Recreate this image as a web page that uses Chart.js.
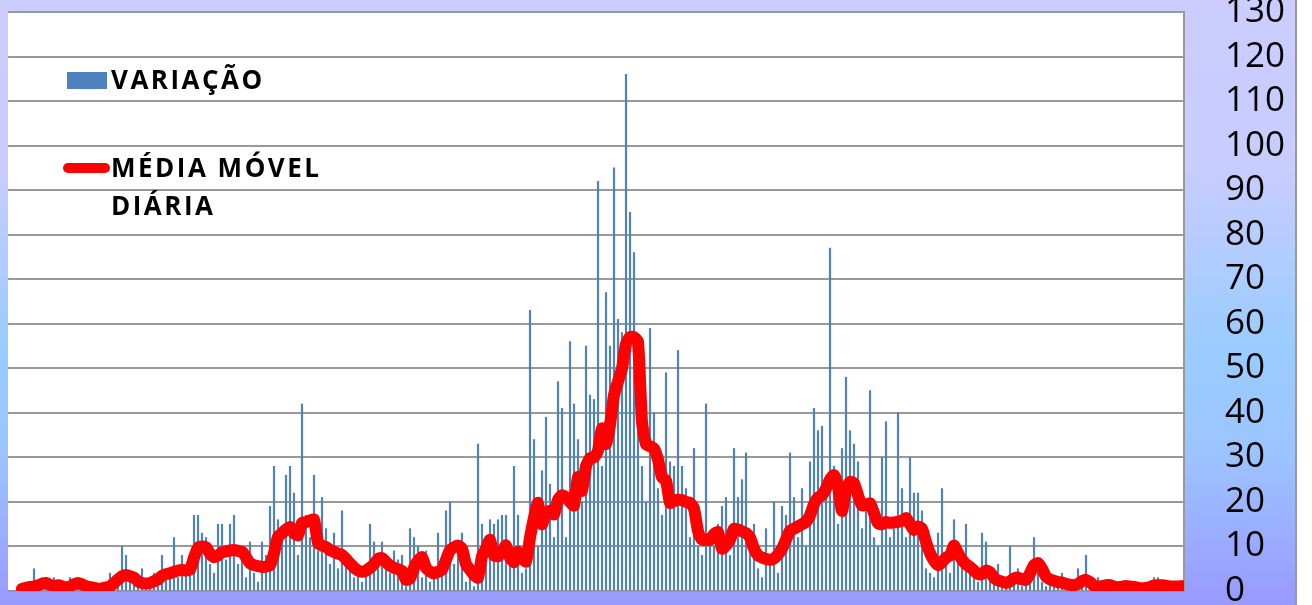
<!DOCTYPE html>
<html>
<head>
<meta charset="utf-8">
<script src="https://cdn.jsdelivr.net/npm/chart.js@4.4.1/dist/chart.umd.min.js"></script>
<style>
  body { margin: 0; background: #fff; }
  canvas { display: block; }
</style>
</head>
<body>
<canvas id="grafico" width="1312" height="605"></canvas>
<script>
// variação diária (barras)
const variacao = [
  0,0,0,1,0,2,5,1,3,2,
  1,3,0,1,2,3,1,3,2,1,
  0,1,0,1,0,4,2,1,10,8,
  3,2,1,5,1,2,4,2,8,3,
  5,12,3,8,4,6,17,17,13,12,
  6,4,15,15,7,15,17,6,8,3,
  11,4,2,11,8,19,28,16,12,26,
  28,22,8,42,17,12,26,9,21,14,
  6,13,5,18,8,6,3,4,2,4,
  15,11,5,11,7,4,9,7,8,1,
  14,12,10,3,9,2,4,13,5,18,
  20,6,9,13,2,4,1,33,15,6,
  16,15,16,17,17,8,28,17,4,5,
  63,34,10,27,39,24,12,47,41,12,
  56,42,34,20,55,44,43,92,28,67,
  55,95,61,58,116,85,76,42,28,20,
  59,40,23,17,49,29,28,54,28,23,
  12,32,10,8,42,12,10,15,19,21,
  8,32,21,25,31,12,15,5,3,14,
  6,20,4,19,17,31,21,12,23,10,
  29,41,36,37,25,77,28,15,32,48,
  36,33,29,14,18,45,12,10,30,38,
  12,14,40,23,12,30,22,22,18,5,
  4,3,13,23,6,4,16,8,6,15,
  4,3,2,13,11,3,2,6,1,3,
  10,2,5,1,2,3,12,4,2,1,
  2,1,2,4,1,2,1,5,2,8,
  2,1,3,1,0,2,1,0,2,1,
  0,1,0,1,0,1,3,3,1,2,
  1,0,2,1
];

// média móvel diária (linha)
const mediaMovel = [
  null,null,null,0.5,0.7,0.9,1.0,1.3,1.6,1.8,
  1.4,1.0,1.3,1.1,0.7,1.0,1.5,1.8,1.5,1.1,
  0.9,0.7,0.5,0.6,0.8,1.0,1.8,2.6,3.3,3.6,
  3.3,3.0,2.2,1.8,1.7,1.8,2.2,2.6,3.4,3.8,
  4.0,4.3,4.6,4.7,4.6,4.8,7.5,9.7,10.0,9.8,
  8.4,7.6,8.0,8.7,8.9,9.1,9.2,9.0,8.8,7.6,
  6.2,5.8,5.6,5.4,5.5,5.8,8.5,12.2,13.0,13.8,
  14.4,13.0,12.5,15.3,15.5,15.8,16.0,10.8,10.2,9.9,
  9.2,8.8,8.4,8.1,7.2,6.2,5.3,4.6,4.3,4.6,
  5.2,6.0,7.2,7.4,6.5,5.7,5.2,4.9,4.5,2.5,
  2.8,5.2,6.8,7.6,5.2,4.4,4.0,4.3,4.8,7.0,
  9.2,9.8,10.2,9.5,6.0,4.8,3.6,3.0,7.8,9.5,
  11.5,8.0,7.8,8.8,10.2,7.5,6.5,8.8,7.5,6.6,
  12.0,16.5,19.8,15.0,17.5,18.0,17.2,20.5,21.5,21.0,
  20.0,19.2,25.6,22.5,28.0,29.8,30.0,31.5,36.5,33.0,
  37.3,44.0,47.0,50.0,55.5,57.0,57.0,56.0,38.0,33.0,
  32.5,32.0,29.5,25.5,24.8,19.8,20.2,20.5,20.4,20.0,
  19.8,18.5,13.5,11.5,11.5,11.5,12.8,13.2,9.5,10.2,
  11.5,14.0,13.8,13.4,13.0,12.0,9.5,8.0,7.5,7.2,
  7.0,7.3,8.2,9.5,11.5,13.5,14.0,14.5,15.0,15.5,
  17.0,19.5,21.0,21.5,23.0,25.0,26.0,23.5,18.0,23.0,
  24.5,24.2,21.5,19.2,19.3,19.7,17.5,15.2,15.0,15.5,
  15.3,15.4,15.5,15.8,16.4,15.0,13.7,14.5,14.0,11.0,
  8.5,6.8,5.8,6.5,7.5,8.0,10.2,8.5,7.0,6.0,
  5.4,4.6,3.8,3.8,4.6,4.2,3.0,2.4,2.1,1.8,
  2.2,2.8,3.0,2.6,2.5,4.0,5.8,6.3,5.0,3.2,
  2.6,2.3,2.0,1.9,1.6,1.4,1.3,1.6,2.2,2.5,
  2.0,1.2,1.0,1.1,1.3,1.3,1.0,0.8,1.0,1.1,
  1.0,0.9,0.7,0.6,0.7,0.9,1.2,1.3,1.3,1.2,
  1.0,1.0,1.0,1.1
];

const dias = variacao.map((v, i) => i + 1);
const legendaBarra = ['VARIAÇÃO'];
const legendaLinha = ['MÉDIA MÓVEL', 'DIÁRIA'];

Chart.defaults.font.family = "'Open Sans', sans-serif";

const fundo = {
  id: 'fundo',
  beforeDraw(chart) {
    const ctx = chart.ctx;
    const a = chart.chartArea;
    ctx.save();
    ctx.fillStyle = '#ffffff';
    ctx.fillRect(0, 0, chart.width, chart.height);
    const g = ctx.createLinearGradient(0, 0, 0, chart.height);
    g.addColorStop(0, '#ccccff');
    g.addColorStop(0.28, '#c8ccff');
    g.addColorStop(0.58, '#99ccff');
    g.addColorStop(0.75, '#9cc4ff');
    g.addColorStop(1, '#9999ff');
    ctx.fillStyle = g;
    ctx.fillRect(0, 0, 1296, chart.height);
    ctx.strokeStyle = '#999999';
    ctx.lineWidth = 2;
    ctx.beginPath();
    ctx.moveTo(1296, 0);
    ctx.lineTo(1296, chart.height);
    ctx.stroke();
    ctx.fillStyle = '#ffffff';
    ctx.fillRect(a.left, a.top, a.right - a.left, a.bottom - a.top);
    ctx.restore();
  }
};

const legenda = {
  id: 'legenda',
  afterDatasetsDraw(chart) {
    const ctx = chart.ctx;
    ctx.save();
    ctx.fillStyle = '#4f81bd';
    ctx.fillRect(67, 72, 40, 17);
    ctx.strokeStyle = '#ff0000';
    ctx.lineWidth = 10;
    ctx.lineCap = 'round';
    ctx.beginPath();
    ctx.moveTo(68, 168);
    ctx.lineTo(105, 168);
    ctx.stroke();
    ctx.fillStyle = '#000000';
    ctx.font = "bold 26px 'Open Sans'";
    ctx.letterSpacing = '2.5px';
    ctx.textBaseline = 'alphabetic';
    ctx.fillText(legendaBarra[0], 111, 89);
    ctx.fillText(legendaLinha[0], 111, 177);
    ctx.fillText(legendaLinha[1], 111, 215);
    ctx.restore();
  }
};

const grafico = new Chart(document.getElementById('grafico'), {
  type: 'bar',
  data: {
    labels: dias,
    datasets: [
      {
        type: 'line',
        label: 'MÉDIA MÓVEL DIÁRIA',
        data: mediaMovel,
        borderColor: '#ff0000',
        borderWidth: 12,
        pointRadius: 0,
        tension: 0.2,
        borderJoinStyle: 'round',
        borderCapStyle: 'round',
        clip: 0,
        order: 0
      },
      {
        label: 'VARIAÇÃO',
        data: variacao,
        backgroundColor: '#4f81bd',
        barThickness: 1.5,
        order: 1
      }
    ]
  },
  options: {
    responsive: false,
    animation: false,
    layout: { padding: { left: 8, top: 12, right: 0, bottom: 14 } },
    plugins: {
      legend: { display: false },
      tooltip: { enabled: false }
    },
    scales: {
      x: { display: false },
      y: {
        position: 'right',
        min: 0,
        max: 130,
        border: { display: true, color: '#999999', width: 2 },
        grid: { color: '#999999', lineWidth: 2, drawTicks: false },
        ticks: {
          stepSize: 10,
          autoSkip: false,
          padding: 41,
          color: '#000000',
          font: { size: 35 }
        },
        afterFit(scale) {
          scale.width = 128;
          scale.paddingTop = 0;
          scale.paddingBottom = 0;
        }
      }
    }
  },
  plugins: [fundo, legenda]
});
</script>
</body>
</html>
